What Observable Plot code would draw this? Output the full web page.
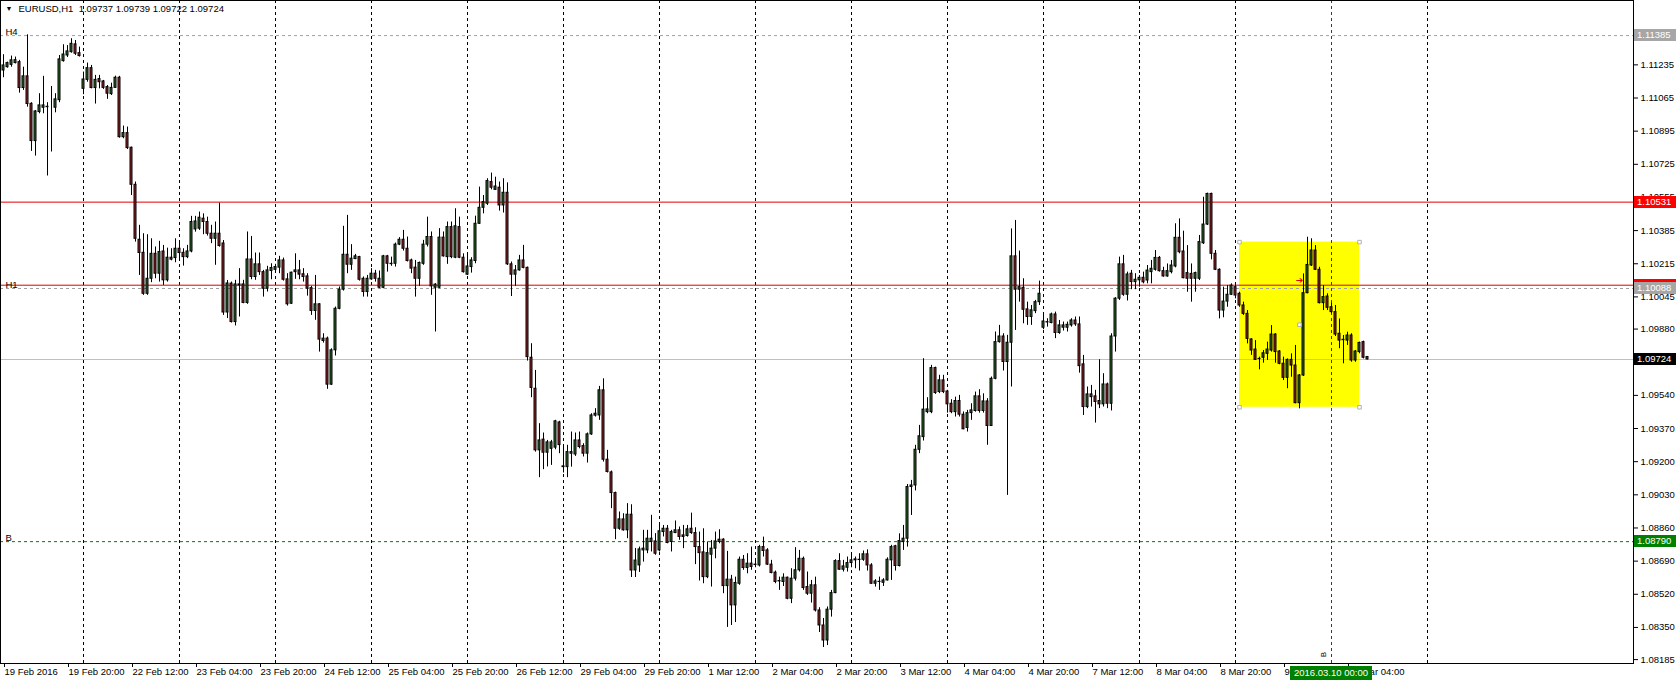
<!DOCTYPE html>
<html><head><meta charset="utf-8">
<script src="https://cdn.jsdelivr.net/npm/d3@7"></script>
<script src="https://cdn.jsdelivr.net/npm/@observablehq/plot@0.6"></script>
<style>
html,body{margin:0;padding:0;background:#fff;}
#chart svg{display:block;}
</style>
</head><body><div id="chart"></div>
<script>
// ---- EURUSD H1 candles (bar index 0 = 19 Feb 2016 04:00) ----
const open = [1.11206,1.11223,1.11235,1.11244,1.11249,1.11116,1.11176,1.11035,1.10844,1.10993,1.11015,1.11020,1.11020,1.11015,1.11054,1.11254,1.11283,1.11300,1.11340,1.11295,
1.11112,1.11158,1.11218,1.11116,1.11162,1.11150,1.11121,1.11085,1.11117,1.11169,1.10864,1.10885,1.10810,1.10620,1.10338,1.10271,1.10061,1.10138,1.10266,1.10164,
1.10278,1.10130,1.10246,1.10244,1.10292,1.10271,1.10249,1.10278,1.10391,1.10395,1.10446,1.10429,1.10369,1.10343,1.10369,1.10319,1.09965,1.10113,1.09916,1.10109,
1.10109,1.10014,1.10237,1.10147,1.10212,1.10172,1.10087,1.10178,1.10184,1.10195,1.10232,1.10135,1.10010,1.10172,1.10181,1.10161,1.10150,1.10090,1.09973,1.10007,
1.09831,1.09831,1.09595,1.09771,1.09984,1.10082,1.10261,1.10210,1.10239,1.10249,1.10138,1.10070,1.10135,1.10164,1.10138,1.10092,1.10253,1.10215,1.10215,1.10313,
1.10338,1.10292,1.10232,1.10195,1.10138,1.10215,1.10313,1.10352,1.10092,1.10092,1.10349,1.10249,1.10403,1.10246,1.10403,1.10246,1.10159,1.10198,1.10229,1.10420,
1.10502,1.10523,1.10634,1.10594,1.10605,1.10514,1.10579,1.10212,1.10159,1.10181,1.10232,1.10194,1.09733,1.09574,1.09258,1.09313,1.09246,1.09266,1.09272,1.09401,
1.09176,1.09172,1.09241,1.09237,1.09309,1.09280,1.09241,1.09340,1.09436,1.09437,1.09566,1.09210,1.09145,1.09039,1.08856,1.08904,1.08848,1.08928,1.08642,1.08668,
1.08745,1.08745,1.08788,1.08791,1.08745,1.08839,1.08856,1.08788,1.08834,1.08848,1.08822,1.08819,1.08856,1.08834,1.08762,1.08735,1.08608,1.08723,1.08754,1.08788,
1.08800,1.08562,1.08595,1.08463,1.08574,1.08697,1.08655,1.08677,1.08672,1.08668,1.08762,1.08745,1.08672,1.08631,1.08588,1.08583,1.08605,1.08497,1.08600,1.08643,
1.08702,1.08557,1.08523,1.08566,1.08437,1.08360,1.08283,1.08441,1.08526,1.08690,1.08646,1.08656,1.08680,1.08694,1.08697,1.08697,1.08725,1.08668,1.08574,1.08584,
1.08579,1.08591,1.08694,1.08766,1.08665,1.08788,1.08805,1.09070,1.09078,1.09261,1.09326,1.09454,1.09454,1.09680,1.09557,1.09617,1.09560,1.09497,1.09454,1.09511,
1.09441,1.09373,1.09449,1.09460,1.09535,1.09460,1.09509,1.09383,1.09625,1.09813,1.09842,1.09711,1.09810,1.10253,1.10082,1.10092,1.09981,1.09942,1.09972,1.10018,
1.09887,1.09914,1.09911,1.09955,1.09860,1.09887,1.09887,1.09899,1.09924,1.09904,1.09699,1.09480,1.09545,1.09535,1.09511,1.09494,1.09596,1.09497,1.09842,1.10036,
1.10212,1.10056,1.10164,1.10121,1.10130,1.10143,1.10129,1.10172,1.10184,1.10245,1.10177,1.10150,1.10172,1.10201,1.10348,1.10278,1.10167,1.10163,1.10138,1.10138,
1.10320,1.10416,1.10573,1.10266,1.10184,1.09975,1.10021,1.10056,1.10095,1.10061,1.10001,1.09958,1.09827,1.09775,1.09727,1.09733,1.09753,1.09770,1.09852,1.09765,
1.09702,1.09630,1.09722,1.09693,1.09500,1.09642,1.10064,1.10206,1.10283,1.10184,1.10013,1.10047,1.09992,1.09967,1.09856,1.09825,1.09821,1.09847,1.09719,1.09762,
1.09813,1.09737];
const high = [1.11287,1.11249,1.11280,1.11275,1.11258,1.11223,1.11389,1.11041,1.11001,1.11087,1.11176,1.11041,1.11124,1.11087,1.11283,1.11338,1.11334,1.11369,1.11360,1.11326,
1.11198,1.11244,1.11232,1.11181,1.11181,1.11155,1.11129,1.11141,1.11177,1.11176,1.10921,1.10916,1.10813,1.10634,1.10412,1.10369,1.10364,1.10343,1.10301,1.10330,
1.10309,1.10295,1.10292,1.10343,1.10326,1.10292,1.10309,1.10458,1.10458,1.10480,1.10471,1.10454,1.10412,1.10429,1.10526,1.10334,1.10129,1.10121,1.10130,1.10190,
1.10130,1.10378,1.10355,1.10270,1.10270,1.10181,1.10202,1.10215,1.10212,1.10253,1.10244,1.10164,1.10172,1.10266,1.10232,1.10190,1.10164,1.10099,1.10155,1.10010,
1.09856,1.09839,1.09779,1.09993,1.10096,1.10407,1.10463,1.10313,1.10263,1.10253,1.10147,1.10155,1.10190,1.10181,1.10178,1.10258,1.10258,1.10249,1.10321,1.10349,
1.10386,1.10352,1.10239,1.10232,1.10224,1.10335,1.10454,1.10378,1.10113,1.10395,1.10378,1.10429,1.10429,1.10497,1.10454,1.10266,1.10266,1.10246,1.10459,1.10608,
1.10565,1.10651,1.10680,1.10659,1.10634,1.10651,1.10630,1.10224,1.10206,1.10258,1.10309,1.10198,1.09805,1.09668,1.09395,1.09347,1.09309,1.09309,1.09412,1.09407,
1.09278,1.09284,1.09352,1.09347,1.09352,1.09292,1.09347,1.09446,1.09472,1.09586,1.09625,1.09258,1.09152,1.09044,1.08942,1.08933,1.08985,1.08979,1.08755,1.08762,
1.08848,1.08848,1.08925,1.08831,1.08882,1.08873,1.08873,1.08848,1.08896,1.08865,1.08873,1.08873,1.08936,1.08861,1.08839,1.08856,1.08788,1.08796,1.08839,1.08851,
1.08805,1.08740,1.08617,1.08608,1.08711,1.08719,1.08728,1.08762,1.08694,1.08771,1.08813,1.08754,1.08694,1.08639,1.08608,1.08625,1.08608,1.08651,1.08759,1.08745,
1.08711,1.08634,1.08591,1.08608,1.08451,1.08396,1.08455,1.08540,1.08697,1.08728,1.08694,1.08711,1.08719,1.08711,1.08728,1.08742,1.08748,1.08677,1.08595,1.08608,
1.08600,1.08707,1.08771,1.08771,1.08830,1.08873,1.09083,1.09104,1.09284,1.09386,1.09728,1.09528,1.09694,1.09685,1.09643,1.09643,1.09566,1.09518,1.09531,1.09540,
1.09455,1.09463,1.09497,1.09557,1.09569,1.09548,1.09523,1.09634,1.09865,1.09899,1.09856,1.09848,1.10394,1.10437,1.10280,1.10138,1.10018,1.10001,1.10027,1.10126,
1.09950,1.09933,1.09962,1.09967,1.09924,1.09916,1.09916,1.09933,1.09942,1.09942,1.09745,1.09583,1.09591,1.09566,1.09723,1.09651,1.09603,1.09856,1.10041,1.10249,
1.10258,1.10172,1.10181,1.10164,1.10155,1.10172,1.10206,1.10232,1.10283,1.10252,1.10197,1.10214,1.10232,1.10420,1.10445,1.10382,1.10308,1.10214,1.10172,1.10360,
1.10556,1.10577,1.10577,1.10283,1.10189,1.10095,1.10103,1.10112,1.10103,1.10069,1.10018,1.09975,1.09830,1.09821,1.09736,1.09770,1.09813,1.09898,1.09856,1.09770,
1.09736,1.09727,1.09753,1.09796,1.09647,1.10163,1.10351,1.10343,1.10308,1.10197,1.10103,1.10061,1.10013,1.10001,1.09932,1.09847,1.09864,1.09856,1.09770,1.09813,
1.09818,1.09739];
const low = [1.11169,1.11218,1.11223,1.11240,1.11090,1.11104,1.11018,1.10791,1.10767,1.10984,1.10984,1.10665,1.10788,1.10989,1.11041,1.11249,1.11273,1.11295,1.11283,1.11275,
1.11082,1.11146,1.11112,1.11034,1.11112,1.11109,1.11058,1.11078,1.11116,1.10859,1.10856,1.10801,1.10565,1.10326,1.10155,1.10053,1.10053,1.10118,1.10138,1.10121,
1.10104,1.10121,1.10230,1.10220,1.10241,1.10203,1.10241,1.10271,1.10377,1.10386,1.10364,1.10357,1.10318,1.10207,1.10300,1.09950,1.09934,1.09911,1.09896,1.09942,
1.10010,1.10007,1.10133,1.10130,1.10155,1.10044,1.10070,1.10133,1.10172,1.10164,1.10126,1.09998,1.10007,1.10135,1.10133,1.10121,1.10049,1.09950,1.09925,1.09762,
1.09808,1.09571,1.09591,1.09742,1.09979,1.10075,1.10164,1.10181,1.10236,1.10126,1.10044,1.10044,1.10130,1.10121,1.10087,1.10087,1.10172,1.10202,1.10198,1.10308,
1.10280,1.10224,1.10164,1.10044,1.10099,1.10207,1.10301,1.10053,1.09865,1.10087,1.10249,1.10212,1.10241,1.10241,1.10241,1.10167,1.10155,1.10167,1.10215,1.10417,
1.10471,1.10514,1.10594,1.10591,1.10485,1.10475,1.10206,1.10047,1.10099,1.10177,1.10189,1.09716,1.09528,1.09249,1.09118,1.09159,1.09173,1.09181,1.09261,1.09241,
1.09142,1.09118,1.09172,1.09227,1.09266,1.09224,1.09193,1.09335,1.09429,1.09412,1.09198,1.09142,1.08959,1.08800,1.08848,1.08844,1.08805,1.08606,1.08606,1.08632,
1.08685,1.08728,1.08737,1.08720,1.08737,1.08814,1.08779,1.08737,1.08831,1.08797,1.08754,1.08813,1.08827,1.08672,1.08588,1.08574,1.08600,1.08557,1.08702,1.08779,
1.08523,1.08350,1.08360,1.08375,1.08566,1.08643,1.08625,1.08643,1.08656,1.08660,1.08711,1.08668,1.08625,1.08574,1.08540,1.08560,1.08492,1.08472,1.08588,1.08634,
1.08540,1.08514,1.08475,1.08429,1.08324,1.08247,1.08257,1.08403,1.08523,1.08643,1.08634,1.08634,1.08656,1.08651,1.08639,1.08689,1.08639,1.08571,1.08557,1.08540,
1.08560,1.08588,1.08591,1.08639,1.08660,1.08745,1.08762,1.08924,1.09050,1.09241,1.09306,1.09446,1.09446,1.09545,1.09549,1.09549,1.09449,1.09446,1.09429,1.09429,
1.09364,1.09352,1.09412,1.09454,1.09449,1.09449,1.09284,1.09381,1.09620,1.09808,1.09665,1.09027,1.09583,1.09873,1.10018,1.09907,1.09899,1.09899,1.09959,1.10001,
1.09877,1.09890,1.09907,1.09831,1.09853,1.09870,1.09865,1.09890,1.09894,1.09654,1.09437,1.09472,1.09480,1.09398,1.09472,1.09480,1.09472,1.09460,1.09762,1.10027,
1.10048,1.10024,1.10082,1.10082,1.10095,1.10112,1.10112,1.10112,1.10177,1.10172,1.10146,1.10146,1.10163,1.10194,1.10266,1.10138,1.10069,1.10018,1.10069,1.10129,
1.10314,1.10411,1.10235,1.10180,1.09932,1.09938,1.09992,1.10052,1.10035,1.09992,1.09950,1.09804,1.09745,1.09719,1.09671,1.09705,1.09719,1.09762,1.09705,1.09697,
1.09616,1.09574,1.09633,1.09497,1.09471,1.09637,1.10061,1.10201,1.10180,1.10009,1.09975,1.09975,1.09958,1.09842,1.09779,1.09702,1.09796,1.09710,1.09710,1.09753,
1.09727,1.09722];
const close = [1.11232,1.11244,1.11258,1.11259,1.11116,1.11176,1.11034,1.10844,1.10996,1.11027,1.11027,1.11018,1.11020,1.11058,1.11263,1.11288,1.11304,1.11343,1.11292,1.11280,
1.11160,1.11218,1.11116,1.11158,1.11146,1.11117,1.11087,1.11117,1.11169,1.10864,1.10885,1.10808,1.10620,1.10343,1.10270,1.10061,1.10138,1.10266,1.10164,1.10275,
1.10130,1.10246,1.10236,1.10292,1.10270,1.10249,1.10278,1.10429,1.10432,1.10451,1.10429,1.10369,1.10343,1.10369,1.10306,1.09965,1.10114,1.09916,1.10109,1.10104,
1.10014,1.10237,1.10147,1.10212,1.10172,1.10087,1.10181,1.10193,1.10198,1.10232,1.10133,1.10007,1.10169,1.10181,1.10159,1.10147,1.10087,1.09973,1.10007,1.09826,
1.09819,1.09595,1.09771,1.09984,1.10082,1.10261,1.10210,1.10241,1.10253,1.10133,1.10070,1.10138,1.10164,1.10138,1.10092,1.10253,1.10215,1.10213,1.10313,1.10338,
1.10292,1.10229,1.10190,1.10138,1.10219,1.10313,1.10352,1.10099,1.10108,1.10349,1.10253,1.10403,1.10249,1.10407,1.10246,1.10172,1.10201,1.10232,1.10420,1.10502,
1.10531,1.10639,1.10605,1.10611,1.10514,1.10579,1.10212,1.10159,1.10181,1.10232,1.10194,1.09736,1.09578,1.09258,1.09309,1.09246,1.09299,1.09299,1.09407,1.09285,
1.09172,1.09249,1.09249,1.09309,1.09275,1.09241,1.09340,1.09437,1.09446,1.09566,1.09210,1.09147,1.09039,1.08856,1.08904,1.08848,1.08928,1.08642,1.08693,1.08750,
1.08754,1.08805,1.08805,1.08728,1.08843,1.08856,1.08783,1.08839,1.08848,1.08814,1.08814,1.08853,1.08834,1.08762,1.08731,1.08608,1.08731,1.08754,1.08791,1.08800,
1.08562,1.08595,1.08463,1.08578,1.08697,1.08655,1.08677,1.08660,1.08670,1.08762,1.08742,1.08672,1.08629,1.08583,1.08586,1.08605,1.08497,1.08600,1.08643,1.08702,
1.08552,1.08523,1.08566,1.08437,1.08360,1.08283,1.08441,1.08526,1.08690,1.08646,1.08663,1.08680,1.08694,1.08699,1.08696,1.08725,1.08668,1.08574,1.08586,1.08583,
1.08591,1.08697,1.08762,1.08665,1.08793,1.08805,1.09070,1.09078,1.09261,1.09330,1.09467,1.09468,1.09680,1.09552,1.09617,1.09557,1.09494,1.09454,1.09511,1.09441,
1.09366,1.09449,1.09463,1.09535,1.09460,1.09509,1.09383,1.09625,1.09813,1.09842,1.09711,1.09810,1.10253,1.10082,1.10095,1.09979,1.09942,1.09976,1.10018,1.10061,
1.09919,1.09916,1.09955,1.09860,1.09899,1.09899,1.09902,1.09924,1.09904,1.09690,1.09480,1.09545,1.09531,1.09506,1.09494,1.09596,1.09497,1.09842,1.10036,1.10212,
1.10056,1.10160,1.10121,1.10133,1.10143,1.10120,1.10180,1.10189,1.10245,1.10177,1.10150,1.10177,1.10206,1.10348,1.10274,1.10141,1.10138,1.10138,1.10167,1.10326,
1.10416,1.10573,1.10266,1.10184,1.09975,1.10021,1.10056,1.10103,1.10052,1.10001,1.09958,1.09830,1.09770,1.09722,1.09726,1.09756,1.09775,1.09852,1.09762,1.09702,
1.09630,1.09722,1.09693,1.09500,1.09642,1.10064,1.10209,1.10283,1.10184,1.10013,1.10044,1.09989,1.09967,1.09852,1.09821,1.09823,1.09847,1.09719,1.09765,1.09809,
1.09733,1.09724];

// ---- time axis (bar indices and their labels) ----
const xTickBars = [0,16,32,48,64,80,96,112,128,144,160,176,192,208,224,240,256,272,288,304,320,336];
const xTickLabels = ["19 Feb 2016","19 Feb 20:00","22 Feb 12:00","23 Feb 04:00","23 Feb 20:00","24 Feb 12:00","25 Feb 04:00","25 Feb 20:00","26 Feb 12:00","29 Feb 04:00","29 Feb 20:00","1 Mar 12:00","2 Mar 04:00","2 Mar 20:00","3 Mar 12:00","4 Mar 04:00","4 Mar 20:00","7 Mar 12:00","8 Mar 04:00","8 Mar 20:00","9 Mar 12:00","10 Mar 04:00"];
const daySeparatorBars = [20,44,68,92,116,140,164,188,212,236,260,284,308,332,356];

// ---- price axis ----
const yTicks = [1.11405,1.11235,1.11065,1.10895,1.10725,1.10555,1.10385,1.10215,1.10045,1.09880,1.09710,1.09540,1.09370,1.09200,1.09030,1.08860,1.08690,1.08520,1.08350,1.08185];
const yTickLabels = ["1.11405","1.11235","1.11065","1.10895","1.10725","1.10555","1.10385","1.10215","1.10045","1.09880","1.09710","1.09540","1.09370","1.09200","1.09030","1.08860","1.08690","1.08520","1.08350","1.08185"];

// ---- chart objects ----
const levelNames = ["H4","H1","B"];
const levelPrices = [1.11385,1.10088,1.08790];
const redLevels = [1.10531,1.10105];
const bidPrice = 1.09724;
const rectBars = [309,339];
const rectPrices = [1.09479,1.10326];
const arrowBar = 324;
const arrowPrice = 1.10129;
const vlineBar = 332;
const vlineLabel = "2016.03.10 00:00";
const title = "EURUSD,H1  1.09737 1.09739 1.09722 1.09724";
const priceLabels = ["1.11385","1.10531","1.10105","1.10088","1.09724","1.08790"];
const priceLabelValues = [1.11385,1.10531,1.10105,1.10088,1.09724,1.08790];
const priceLabelColors = ["#a6a6a6","#ff0000","#ff0000","#a6a6a6","#000000","#008000"];

const bars = open.map((o,i)=>({i, o, h: high[i], l: low[i], c: close[i]}));
const bulls = bars.filter(d=>d.c>=d.o);
const bears = bars.filter(d=>d.c<d.o);
const rect = [{x1: rectBars[0], x2: rectBars[1], y1: rectPrices[0], y2: rectPrices[1]}];
const handles = [
  {x: rectBars[0], y: rectPrices[0]}, {x: rectBars[1], y: rectPrices[0]},
  {x: rectBars[0], y: rectPrices[1]}, {x: rectBars[1], y: rectPrices[1]},
  {x: (rectBars[0]+rectBars[1])/2, y: (rectPrices[0]+rectPrices[1])/2}
];
const tickLabelOf = new Map(xTickBars.map((b,k)=>[b,xTickLabels[k]]));
const yLabelOf = new Map(yTicks.map((v,k)=>[v,yTickLabels[k]]));
const FONT = "'Liberation Sans', Arial, sans-serif";

const chart = Plot.plot({
  width: 1676, height: 683,
  marginLeft: 0, marginRight: 43, marginTop: 0, marginBottom: 20,
  style: {fontFamily: FONT, fontSize: "9.5px", background: "#fff", color: "#000"},
  x: {type: "linear", domain: [-0.75, 407.5], axis: null},
  y: {type: "linear", domain: [1.08165, 1.11565], axis: null},
  marks: [
    Plot.rect(rect, {x1: "x1", x2: "x2", y1: "y1", y2: "y2", fill: "#ffff00"}),
    Plot.ruleX(daySeparatorBars.filter(b=>b!==vlineBar), {stroke: "#000", strokeDasharray: "3,3"}),
    Plot.ruleX([vlineBar], {stroke: "#006400", strokeDasharray: "3,3"}),
    Plot.ruleY([levelPrices[0]], {stroke: "#a0a0a0", strokeDasharray: "3,3"}),
    Plot.ruleY([levelPrices[1]], {stroke: "#a0a0a0", strokeDasharray: "3,3"}),
    Plot.ruleY([levelPrices[2]], {stroke: "#008000", strokeDasharray: "3,3"}),
    Plot.ruleY(redLevels, {stroke: "#e00000"}),
    Plot.ruleY([bidPrice], {stroke: "#c0c0c0"}),
    Plot.ruleX(bars, {x: "i", y1: "l", y2: "h", stroke: "#000", strokeWidth: 1}),
    Plot.rect(bulls, {x1: d=>d.i-0.25, x2: d=>d.i+0.25, y1: "o", y2: "c", fill: "#2a6b2a", stroke: "#000", strokeWidth: 1}),
    Plot.rect(bears, {x1: d=>d.i-0.25, x2: d=>d.i+0.25, y1: "o", y2: "c", fill: "#9e2222", stroke: "#000", strokeWidth: 1}),
    Plot.dot(handles, {x: "x", y: "y", symbol: "square", r: 2, fill: "#fff", stroke: "#b0b0b0", strokeWidth: 1}),
    Plot.text(["➔"], {x: arrowBar, y: arrowPrice, fontSize: 9, fill: "#e00000", fontFamily: "DejaVu Sans"}),
    Plot.text(levelNames, {x: -0.75, y: (d,k)=>levelPrices[k], text: d=>d, textAnchor: "start", lineAnchor: "bottom", dx: 5, dy: -1, fontSize: 9.5, fill: "#000"}),
    Plot.text([title], {frameAnchor: "top-left", dx: 18, dy: 5, textAnchor: "start", lineAnchor: "top", fill: "#000"}),
    Plot.text(["▼"], {frameAnchor: "top-left", dx: 5, dy: 6, textAnchor: "start", lineAnchor: "top", fontSize: 7, fill: "#000"}),
    Plot.text(["B"], {x: vlineBar, frameAnchor: "bottom", dx: -6, dy: -9, rotate: -90, fontSize: 8, fill: "#000"}),
    Plot.frame({stroke: "#000"}),
    Plot.axisY(yTicks, {anchor: "right", tickSize: 4, tickPadding: 3, tickFormat: d=>yLabelOf.get(d), fontSize: 9.5}),
    Plot.axisX(xTickBars, {anchor: "bottom", tickSize: 4, tickPadding: 1, textAnchor: "start", dx: 1, tickFormat: d=>tickLabelOf.get(d), fontSize: 9.5})
  ]
});
document.getElementById("chart").appendChild(chart);

// price label boxes on the right axis and time label box at the bottom (positions from Plot's scales)
const ys = chart.scale("y"), xs = chart.scale("x");
const svg = d3.select(chart.tagName.toLowerCase()==="svg" ? chart : chart.querySelector("svg"));
const g = svg.append("g").attr("font-family", FONT).attr("font-size", "9.5px").attr("text-anchor", "start");
priceLabels.forEach((t,k)=>{
  const y = Math.round(ys.apply(priceLabelValues[k]));
  g.append("rect").attr("x", 1634).attr("y", y-6).attr("width", 42).attr("height", 12).attr("fill", priceLabelColors[k]);
  g.append("text").attr("x", 1637).attr("y", y).attr("dy", "0.35em").attr("text-anchor", "start").attr("fill", "#fff").text(t);
});
const vx = xs.apply(vlineBar);
g.append("rect").attr("x", Math.round(vx)-41).attr("y", 666).attr("width", 82).attr("height", 14).attr("fill", "#008000");
g.append("text").attr("x", Math.round(vx)).attr("y", 673).attr("dy", "0.35em").attr("text-anchor", "middle").attr("fill", "#fff").text(vlineLabel);
</script>
</body></html>
